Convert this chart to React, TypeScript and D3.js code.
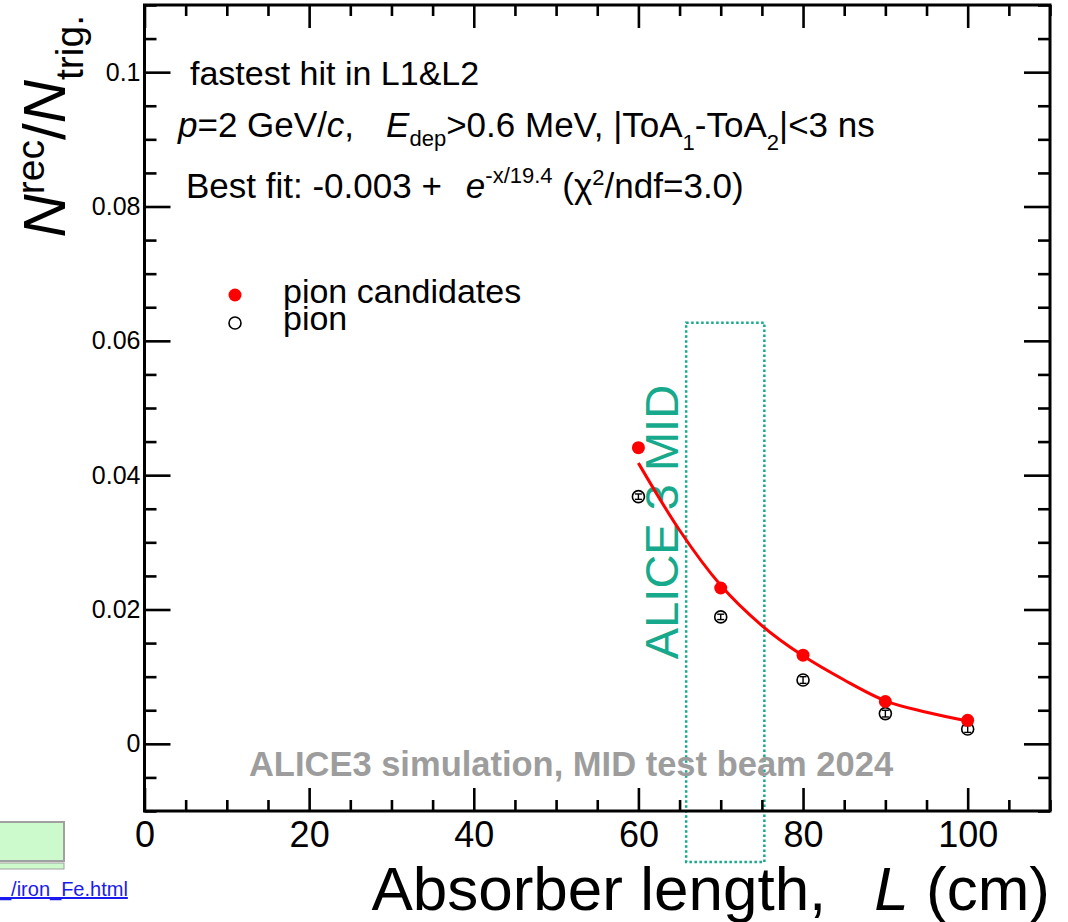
import React, { useEffect, useRef } from 'react'
import * as d3 from 'd3'

const W = 1068
const H = 922
const FONT = "'Liberation Sans', Arial, Helvetica, sans-serif"
const TEAL = '#17a98b'

// absorber length (cm)
const lengths = [60, 70, 80, 90, 100]
// N_rec / N_trig
const pionCandidates = [0.0441, 0.0232, 0.0132, 0.0063, 0.0035]
const pions = [0.0368, 0.0189, 0.0095, 0.0045, 0.0022]
const pionErrors = [0.0004, 0.0004, 0.0005, 0.0005, 0.0005]

// fit curve
const fitX = [60, 65, 70, 75, 80, 85, 90, 95, 100]
const fitY = [0.0418, 0.0318, 0.0236, 0.0176, 0.0131, 0.0095, 0.0064, 0.0047, 0.0034]

const xTicks = [0, 20, 40, 60, 80, 100]
const xTickLabels = ['0', '20', '40', '60', '80', '100']
const yTicks = [0, 0.02, 0.04, 0.06, 0.08, 0.1]
const yTickLabels = ['0', '0.02', '0.04', '0.06', '0.08', '0.1']

// ALICE 3 MID region box (data units)
const midBox = { x0: 65.8, x1: 75.3, y0: -0.0176, y1: 0.0627 }

const x = d3.scaleLinear().domain([0, 110]).range([144.5, 1050])
const y = d3.scaleLinear().domain([-0.01, 0.11]).range([811, 5])

export default function App() {
  const axesRef = useRef<SVGGElement>(null)

  useEffect(() => {
    const g = d3.select(axesRef.current)
    g.selectAll('*').remove()

    const minorX = d3.range(0, 111, 5).filter(v => v % 20 !== 0)
    const minorY = d3.range(-10, 111, 5).filter(v => v % 20 !== 0).map(v => v / 1000)
    const [x0, x1] = x.range()
    const [y0, y1] = y.range()

    const style = (sel: any) => {
      sel.select('.domain').remove()
      sel.selectAll('line').attr('stroke', '#000').attr('stroke-width', 2.6)
      sel.attr('font-family', FONT)
    }

    // bottom
    g.append('g').attr('transform', `translate(0,${y0})`)
      .call(d3.axisBottom(x).tickValues(xTicks).tickSize(-23).tickPadding(10)
        .tickFormat((d, i) => xTickLabels[i]))
      .call(style).attr('font-size', 36)
    g.append('g').attr('transform', `translate(0,${y0})`)
      .call(d3.axisBottom(x).tickValues(minorX).tickSize(-11).tickFormat(() => ''))
      .call(style)
    // top
    g.append('g').attr('transform', `translate(0,${y1})`)
      .call(d3.axisTop(x).tickValues(xTicks).tickSize(-23).tickFormat(() => ''))
      .call(style)
    g.append('g').attr('transform', `translate(0,${y1})`)
      .call(d3.axisTop(x).tickValues(minorX).tickSize(-11).tickFormat(() => ''))
      .call(style)
    // left
    g.append('g').attr('transform', `translate(${x0},0)`)
      .call(d3.axisLeft(y).tickValues(yTicks).tickSize(-26).tickPadding(4)
        .tickFormat((d, i) => yTickLabels[i]))
      .call(style).attr('font-size', 25)
    g.append('g').attr('transform', `translate(${x0},0)`)
      .call(d3.axisLeft(y).tickValues(minorY).tickSize(-12).tickFormat(() => ''))
      .call(style)
    // right
    g.append('g').attr('transform', `translate(${x1},0)`)
      .call(d3.axisRight(y).tickValues(yTicks).tickSize(-26).tickFormat(() => ''))
      .call(style)
    g.append('g').attr('transform', `translate(${x1},0)`)
      .call(d3.axisRight(y).tickValues(minorY).tickSize(-12).tickFormat(() => ''))
      .call(style)
  }, [])

  const fitLine = d3.line<number>()
    .x((d, i) => x(fitX[i]))
    .y(d => y(d))
    .curve(d3.curveMonotoneX)

  const [fx0, fx1] = x.range()
  const [fy0, fy1] = y.range()

  return (
    <svg width={W} height={H} style={{ position: 'absolute', left: 0, top: 0, background: '#fff' }}
      fontFamily={FONT}>
      <rect width={W} height={H} fill="#fff" />

      {/* leftovers of the page behind the plot */}
      <rect x={-2} y={822} width={66} height={39} fill="#ccfacc" stroke="#a0a0a0" strokeWidth={2} />
      <rect x={-2} y={863} width={66} height={6} fill="#ccfacc" stroke="#a0a0a0" strokeWidth={1} />
      <text x={0} y={896} fontSize={20} fill="#1a1aee" textDecoration="underline">_/iron_Fe.html</text>

      {/* ALICE 3 MID region */}
      <rect x={x(midBox.x0)} y={y(midBox.y1)} width={x(midBox.x1) - x(midBox.x0)}
        height={y(midBox.y0) - y(midBox.y1)} fill="none" stroke={TEAL} strokeWidth={2.5}
        strokeDasharray="2.5,2.5" />
      <text transform="translate(678,522) rotate(-90)" textAnchor="middle" fontSize={47} fill={TEAL}>
        ALICE 3 MID
      </text>

      <text x={571} y={776} textAnchor="middle" fontSize={34.5} fontWeight="bold" fill="#9d9d9d">
        ALICE3 simulation, MID test beam 2024
      </text>

      {/* fit */}
      <path d={fitLine(fitY) || ''} fill="none" stroke="#ff0000" strokeWidth={3} />

      {/* pion: open circles with errors */}
      {pions.map((v, i) => (
        <g key={'p' + i}>
          <circle cx={x(lengths[i])} cy={y(v)} r={6} fill="none" stroke="#000" strokeWidth={1.6} />
          <line x1={x(lengths[i])} x2={x(lengths[i])} y1={y(v - pionErrors[i])} y2={y(v + pionErrors[i])}
            stroke="#000" strokeWidth={1.4} />
          <line x1={x(lengths[i]) - 3.5} x2={x(lengths[i]) + 3.5} y1={y(v - pionErrors[i])} y2={y(v - pionErrors[i])}
            stroke="#000" strokeWidth={1.4} />
          <line x1={x(lengths[i]) - 3.5} x2={x(lengths[i]) + 3.5} y1={y(v + pionErrors[i])} y2={y(v + pionErrors[i])}
            stroke="#000" strokeWidth={1.4} />
        </g>
      ))}
      {/* pion candidates */}
      {pionCandidates.map((v, i) => (
        <circle key={'c' + i} cx={x(lengths[i])} cy={y(v)} r={6.5} fill="#ff0000" />
      ))}

      {/* frame */}
      <rect x={fx0} y={fy1} width={fx1 - fx0} height={fy0 - fy1} fill="none" stroke="#000" strokeWidth={3} />
      <g ref={axesRef} />

      {/* annotations */}
      <text x={190} y={85} fontSize={34}>fastest hit in L1&amp;L2</text>
      <text x={178} y={137} fontSize={35}>
        <tspan fontStyle="italic">p</tspan>=2 GeV/<tspan fontStyle="italic">c</tspan>,
        <tspan dx={32} fontStyle="italic">E</tspan>
        <tspan fontSize={22} dy={9}>dep</tspan>
        <tspan dy={-9}>&gt;0.6 MeV, |ToA</tspan>
        <tspan fontSize={22} dy={13}>1</tspan>
        <tspan dy={-13}>-ToA</tspan>
        <tspan fontSize={22} dy={13}>2</tspan>
        <tspan dy={-13}>|&lt;3 ns</tspan>
      </text>
      <text x={186} y={198} fontSize={35}>
        Best fit: -0.003 +
        <tspan dx={24} fontStyle="italic">e</tspan>
        <tspan fontSize={22} dy={-15}>-x/19.4</tspan>
        <tspan dy={15}> (χ</tspan>
        <tspan fontSize={22} dy={-13}>2</tspan>
        <tspan dy={13}>/ndf=3.0)</tspan>
      </text>

      {/* legend */}
      <circle cx={235} cy={295} r={6.5} fill="#ff0000" />
      <text x={283} y={303} fontSize={34}>pion candidates</text>
      <circle cx={235} cy={323} r={6} fill="none" stroke="#000" strokeWidth={1.6} />
      <text x={283} y={330} fontSize={34}>pion</text>

      {/* axis titles */}
      <text transform="translate(65,15) rotate(-90)" textAnchor="end" fontSize={60}>
        <tspan fontStyle="italic">N</tspan>
        <tspan fontSize={39} dy={-21}>rec</tspan>
        <tspan dy={21}>/</tspan>
        <tspan fontStyle="italic">N</tspan>
        <tspan fontSize={39} dy={18}>trig.</tspan>
      </text>
      <text x={1050} y={910} textAnchor="end" fontSize={62}>
        Absorber length,
        <tspan dx={48} fontStyle="italic">L</tspan> (cm)
      </text>
    </svg>
  )
}
